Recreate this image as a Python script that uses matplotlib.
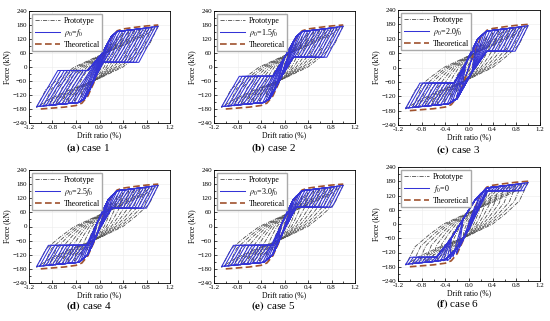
import numpy as np
import matplotlib
matplotlib.use('Agg')
import matplotlib.pyplot as plt

plt.rcParams['font.family'] = ['Liberation Serif', 'DejaVu Serif']
plt.rcParams['mathtext.fontset'] = 'stix'

# ---- labels ----
case_tags = ['(a)', '(b)', '(c)', '(d)', '(e)', '(f)']
case_names = ['case 1', 'case 2', 'case 3', 'case 4', 'case 5', 'case 6']
model_labels = [r'$\rho_0$=$f_0$', r'$\rho_0$=1.5$f_0$', r'$\rho_0$=2.0$f_0$',
                r'$\rho_0$=2.5$f_0$', r'$\rho_0$=3.0$f_0$', r'$f_0$=0']

# ---- theoretical skeleton curve (drift %, kN) ----
theo_x = [-1.0, -0.8, -0.6, -0.4, -0.3, -0.2, -0.1, 0.0, 0.1, 0.2, 0.3, 0.4, 0.6, 0.8, 1.0]
theo_f = [-180, -176, -172, -165, -155, -125, -70, 0, 70, 125, 155, 163, 170, 176, 180]

# ---- prototype (test) loops, same in every panel ----
proto_amp = [0.1, 0.2, 0.3, 0.4, 0.5, 0.6, 0.7, 0.8, 0.9, 1.0]
proto_amp_neg = [0.1, 0.21, 0.32, 0.43, 0.54, 0.64, 0.75, 0.86, 0.96, 1.07]
proto_peak = [55, 100, 130, 145, 153, 159, 164, 168, 172, 176]
proto_peak_neg = [-55, -100, -130, -145, -153, -159, -164, -167, -170, -173]
# unloading branch shape, as fractions of the cycle peak
proto_sx = [1.0, 0.85, 0.62, 0.4, 0.0, -0.45, -0.8, -1.0]
proto_sf = [1.0, 0.55, 0.25, 0.0, -0.28, -0.55, -0.8, -1.0]

# ---- model loops ----
model_amp = [0.05, 0.10, 0.15, 0.20, 0.25, 0.30, 0.35, 0.40, 0.45, 0.50,
             0.55, 0.60, 0.65, 0.70, 0.75, 0.80, 0.85, 0.90, 0.95, 1.00]
model_amp_neg = [0.05, 0.11, 0.16, 0.21, 0.27, 0.32, 0.37, 0.43, 0.48, 0.54,
                 0.59, 0.64, 0.70, 0.75, 0.80, 0.86, 0.91, 0.96, 1.02, 1.07]
bb_pos_x = [0.0, 0.1, 0.2, 0.3, 0.5, 0.7, 0.85, 1.0]
bb_pos_f = [0, 75, 130, 152, 158, 164, 169, 175]
bb_neg_x = [0.0, -0.1, -0.2, -0.35, -0.6, -0.85, -1.07]
bb_neg_f = [0, -65, -120, -152, -158, -164, -170]

low_pos = [20, 42, 68, 78, 82, 140]
low_neg = [-15, -40, -65, -80, -80, -140]
unload_w = [0.33, 0.28, 0.22, 0.20, 0.19, 0.08]
reload_w = [0.36, 0.30, 0.24, 0.20, 0.20, 0.08]
flat_end_pos = [0.05, 0.15, 0.30, 0.20, 0.20, 0.30]
flat_end_neg = [-0.20, -0.20, -0.25, -0.20, -0.20, -0.55]
rise_mid = [[(0.05, 60), (0.2, 130)],
            [(0.0, 40), (0.2, 130)],
            [(-0.05, 20), (0.15, 120)],
            [(-0.05, 10), (0.15, 115)],
            [(-0.05, 10), (0.15, 115)],
            [(-0.3, -60), (-0.1, 20), (0.1, 100)]]
fall_mid = [[(-0.1, -60), (-0.25, -135)],
            [(-0.05, -40), (-0.25, -135)],
            [(0.05, -20), (-0.2, -130)],
            [(0.0, -10), (-0.2, -120)],
            [(0.0, -10), (-0.2, -120)],
            [(0.0, -20), (-0.2, -100), (-0.4, -150)]]

# axes boxes in pixels: left, top, right, bottom
boxes = [(29, 11, 170, 123), (214, 11, 355, 123), (398, 10, 540, 125),
         (29, 170, 170, 283), (214, 170, 355, 283), (398, 167, 540, 281)]

W, H = 550, 321
fig = plt.figure(figsize=(W / 100, H / 100), dpi=100)

blue = '#3434d6'
grey = '#4f4f4f'
brown = '#a0522d'


def model_loop(c, d, dn):
    fp = np.interp(d, bb_pos_x, bb_pos_f)
    fn = np.interp(-dn, bb_neg_x[::-1], bb_neg_f[::-1])
    xs, fs = [-dn], [fn]
    # reloading from negative peak
    u = -dn + reload_w[c]
    cur = -dn
    if u < flat_end_neg[c]:
        xs += [u, flat_end_neg[c]]
        fs += [low_neg[c], low_neg[c]]
        cur = flat_end_neg[c]
    for x, f in rise_mid[c]:
        if cur + 0.01 < x < d - 0.01 and f < fp:
            xs.append(x); fs.append(f); cur = x
    for x, f in zip(bb_pos_x, bb_pos_f):
        if x >= 0.3 and cur < x < d:
            xs.append(x); fs.append(f); cur = x
    xs.append(d); fs.append(fp)
    # unloading from positive peak
    u = d - unload_w[c]
    cur = d
    if u > flat_end_pos[c]:
        xs += [u, flat_end_pos[c]]
        fs += [low_pos[c], low_pos[c]]
        cur = flat_end_pos[c]
    for x, f in fall_mid[c]:
        if -dn + 0.01 < x < cur - 0.01 and f > fn:
            xs.append(x); fs.append(f); cur = x
    for x, f in zip(bb_neg_x, bb_neg_f):
        if x <= -0.35 and -dn < x < cur:
            xs.append(x); fs.append(f); cur = x
    xs.append(-dn); fs.append(fn)
    return xs, fs


def proto_loop(d, dn, fp, fn):
    # unloading branch from the positive peak
    xs = [sx * (d if sx > 0 else dn) for sx in proto_sx]
    fs = [sf * (fp if sf > 0 else -fn) for sf in proto_sf]
    # rising branch uses the mirrored shape
    xr = [-sx * (dn if sx > 0 else d) for sx in proto_sx]
    fr = [-sf * (-fn if sf > 0 else fp) for sf in proto_sf]
    return xs + xr[1:], fs + fr[1:]


for c in range(6):
    l, t, r, b = boxes[c]
    ax = fig.add_axes([l / W, 1 - b / H, (r - l) / W, (b - t) / H])

    for i in range(len(proto_amp)):
        px, pf = proto_loop(proto_amp[i], proto_amp_neg[i], proto_peak[i], proto_peak_neg[i])
        ax.plot(px, pf, color=grey, lw=0.6, ls=(0, (5, 1.5, 1, 1.5)), zorder=2,
                label='Prototype' if i == 0 else None)
    ax.plot(theo_x, theo_f, color=brown, lw=1.2, ls=(0, (4, 2)), zorder=3,
            label='Theoretical')
    for i in range(len(model_amp)):
        mx, mf = model_loop(c, model_amp[i], model_amp_neg[i])
        ax.plot(mx, mf, color=blue, lw=0.75, zorder=4,
                label=model_labels[c] if i == 0 else None)

    ax.set_xlim(-1.2, 1.2)
    ax.set_ylim(-240, 240)
    ax.set_xticks(np.arange(-1.2, 1.21, 0.4))
    ax.set_xticklabels(['-1.2', '-0.8', '-0.4', '0.0', '0.4', '0.8', '1.2'])
    ax.set_yticks(np.arange(-240, 241, 60))
    ax.set_xticks(np.arange(-1.0, 1.1, 0.4), minor=True)
    ax.set_yticks(np.arange(-210, 220, 60), minor=True)
    ax.tick_params(which='both', direction='in', labelsize=5, pad=1.5, width=0.5)
    ax.tick_params(which='major', length=2.5)
    ax.tick_params(which='minor', length=1.5)
    ax.grid(True, color='#ececec', lw=0.4, zorder=0)
    for s in ax.spines.values():
        s.set_linewidth(0.6)
    ax.set_xlabel('Drift ratio (%)', fontsize=5.5, labelpad=1)
    ax.set_ylabel('Force (kN)', fontsize=5.5, labelpad=1)

    h, lab = ax.get_legend_handles_labels()
    order = [lab.index('Prototype'), lab.index(model_labels[c]), lab.index('Theoretical')]
    ax.legend([h[k] for k in order], [lab[k] for k in order], loc='upper left',
              fontsize=5.8, frameon=True, fancybox=False, edgecolor='#aaaaaa',
              framealpha=1, handlelength=3.2, borderpad=0.3, labelspacing=0.25,
              handletextpad=0.4, borderaxespad=0.4)

    cx = (l + r) / 2 - 11
    cy = b + 25 if c < 3 else b + 23
    fig.text(cx / W, 1 - cy / H, r'$\mathbf{' + case_tags[c] + r'}$ ' + case_names[c],
             ha='center', va='center', fontsize=8)

fig.savefig('out.png', dpi=100)
